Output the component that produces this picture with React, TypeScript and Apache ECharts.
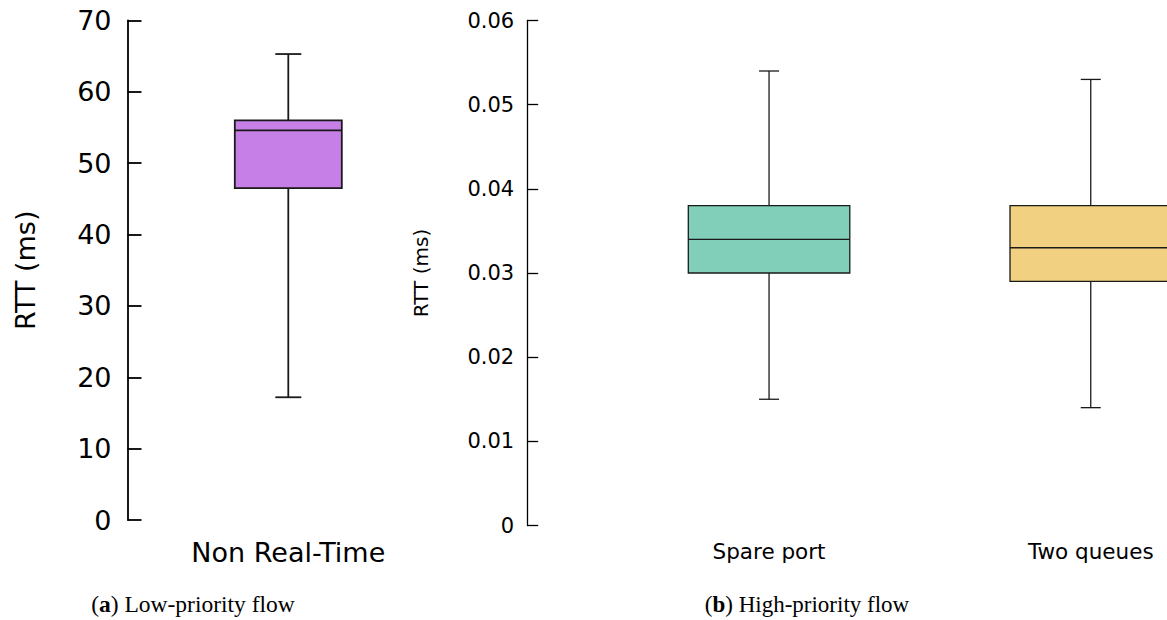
import React, { useEffect, useRef } from "react";
import * as echarts from "echarts";

// ---- data ----
const lowCategories = ["Non Real-Time"];
// [min, q1, median, q3, max]
const lowStats = [[17.2, 46.5, 54.6, 56.0, 65.3]];
const lowTicks = { min: 0, max: 70, interval: 10 };

const highCategories = ["Spare port", "Two queues"];
const highStats = [
  [0.015, 0.03, 0.034, 0.038, 0.054],
  [0.014, 0.029, 0.033, 0.038, 0.053],
];
const highTicks = { min: 0, max: 0.06, interval: 0.01 };

const yName = "RTT (ms)";
const captionA = ["a", " Low-priority flow"];
const captionB = ["b", " High-priority flow"];

// ---- styles ----
const lowColors = ["#C77FE8"];
const highColors = ["#81CFB9", "#F2D081"];
const SANS = "DejaVu Sans";
const SERIF = "Liberation Serif";

function boxRenderer(colors: string[], boxW: number, capW: number, lw: number) {
  return (params: any, api: any) => {
    const x = api.value(0);
    const pMin = api.coord([x, api.value(1)]);
    const pQ1 = api.coord([x, api.value(2)]);
    const pMed = api.coord([x, api.value(3)]);
    const pQ3 = api.coord([x, api.value(4)]);
    const pMax = api.coord([x, api.value(5)]);
    const cx = pMed[0];
    const stroke = "#1a1a1a";
    const ls = { stroke, lineWidth: lw };
    return {
      type: "group",
      children: [
        { type: "line", shape: { x1: cx, y1: pMin[1], x2: cx, y2: pQ1[1] }, style: ls },
        { type: "line", shape: { x1: cx, y1: pQ3[1], x2: cx, y2: pMax[1] }, style: ls },
        { type: "line", shape: { x1: cx - capW / 2, y1: pMin[1], x2: cx + capW / 2, y2: pMin[1] }, style: ls },
        { type: "line", shape: { x1: cx - capW / 2, y1: pMax[1], x2: cx + capW / 2, y2: pMax[1] }, style: ls },
        {
          type: "rect",
          shape: { x: cx - boxW / 2, y: pQ3[1], width: boxW, height: pQ1[1] - pQ3[1] },
          style: { fill: colors[params.dataIndex % colors.length], stroke, lineWidth: lw },
        },
        { type: "line", shape: { x1: cx - boxW / 2, y1: pMed[1], x2: cx + boxW / 2, y2: pMed[1] }, style: ls },
      ],
    };
  };
}

const CHART_W = 1280;

export default function App() {
  const ref = useRef<HTMLDivElement>(null);
  useEffect(() => {
    if (!ref.current) return;
    const chart = echarts.init(ref.current, undefined, { renderer: "svg" });
    const lowData = lowStats.map((s, i) => [i, ...s]);
    const highData = highStats.map((s, i) => [i, ...s]);
    chart.setOption({
      animation: false,
      backgroundColor: "#ffffff",
      grid: [
        { left: 127.5, top: 20.5, width: 321.6, height: 499.5 },
        { left: 608.2, top: 20.5, width: 643.4, height: 505 },
      ],
      xAxis: [
        {
          type: "category",
          gridIndex: 0,
          data: lowCategories,
          axisLine: { show: false },
          axisTick: { show: false },
          axisLabel: { fontFamily: SANS, fontSize: 27, color: "#000", margin: 19 },
        },
        {
          type: "category",
          gridIndex: 1,
          data: highCategories,
          axisLine: { show: false },
          axisTick: { show: false },
          axisLabel: { fontFamily: SANS, fontSize: 21.5, color: "#000", margin: 15 },
        },
      ],
      yAxis: [
        {
          type: "value",
          gridIndex: 0,
          min: lowTicks.min,
          max: lowTicks.max,
          interval: lowTicks.interval,
          name: yName,
          nameLocation: "middle",
          nameRotate: 90,
          nameGap: 89,
          nameTextStyle: { fontFamily: SANS, fontSize: 27, color: "#000" },
          axisLine: { show: true, lineStyle: { color: "#000", width: 1.8 } },
          axisTick: { show: true, inside: true, length: 14, lineStyle: { color: "#000", width: 1.8 } },
          axisLabel: { fontFamily: SANS, fontSize: 27, color: "#000", margin: 16 },
          splitLine: { show: false },
        },
        {
          type: "value",
          gridIndex: 1,
          offset: 81,
          min: highTicks.min,
          max: highTicks.max,
          interval: highTicks.interval,
          name: yName,
          nameLocation: "middle",
          nameRotate: 90,
          nameGap: 96,
          nameTextStyle: { fontFamily: SANS, fontSize: 20, color: "#000" },
          axisLine: { show: true, lineStyle: { color: "#000", width: 1.3 } },
          axisTick: { show: true, inside: true, length: 11, lineStyle: { color: "#000", width: 1.3 } },
          axisLabel: {
            fontFamily: SANS,
            fontSize: 21,
            color: "#000",
            margin: 13,
            formatter: (v: number) => (v === 0 ? "0" : v.toFixed(2)),
          },
          splitLine: { show: false },
        },
      ],
      series: [
        {
          type: "custom",
          xAxisIndex: 0,
          yAxisIndex: 0,
          data: lowData,
          encode: { x: 0, y: [1, 2, 3, 4, 5] },
          renderItem: boxRenderer(lowColors, 107, 26, 1.8),
          clip: false,
        },
        {
          type: "custom",
          xAxisIndex: 1,
          yAxisIndex: 1,
          data: highData,
          encode: { x: 0, y: [1, 2, 3, 4, 5] },
          renderItem: boxRenderer(highColors, 161.5, 20, 1.3),
          clip: false,
        },
      ],
      graphic: [
        {
          type: "text",
          x: 193,
          y: 604,
          style: {
            text: `({b|${captionA[0]}})${captionA[1]}`,
            fontFamily: SERIF,
            fontSize: 23.5,
            fill: "#000",
            align: "center",
            verticalAlign: "middle",
            rich: { b: { fontFamily: SERIF, fontSize: 23.5, fontWeight: "bold", fill: "#000" } },
          },
        },
        {
          type: "text",
          x: 807,
          y: 604,
          style: {
            text: `({b|${captionB[0]}})${captionB[1]}`,
            fontFamily: SERIF,
            fontSize: 23,
            fill: "#000",
            align: "center",
            verticalAlign: "middle",
            rich: { b: { fontFamily: SERIF, fontSize: 23, fontWeight: "bold", fill: "#000" } },
          },
        },
      ],
    });
    return () => chart.dispose();
  }, []);
  return (
    <div
      style={{
        position: "absolute",
        left: 0,
        top: 0,
        width: 1167,
        height: 620,
        overflow: "hidden",
        background: "#fff",
      }}
    >
      <div ref={ref} style={{ width: CHART_W, height: 620 }} />
    </div>
  );
}
